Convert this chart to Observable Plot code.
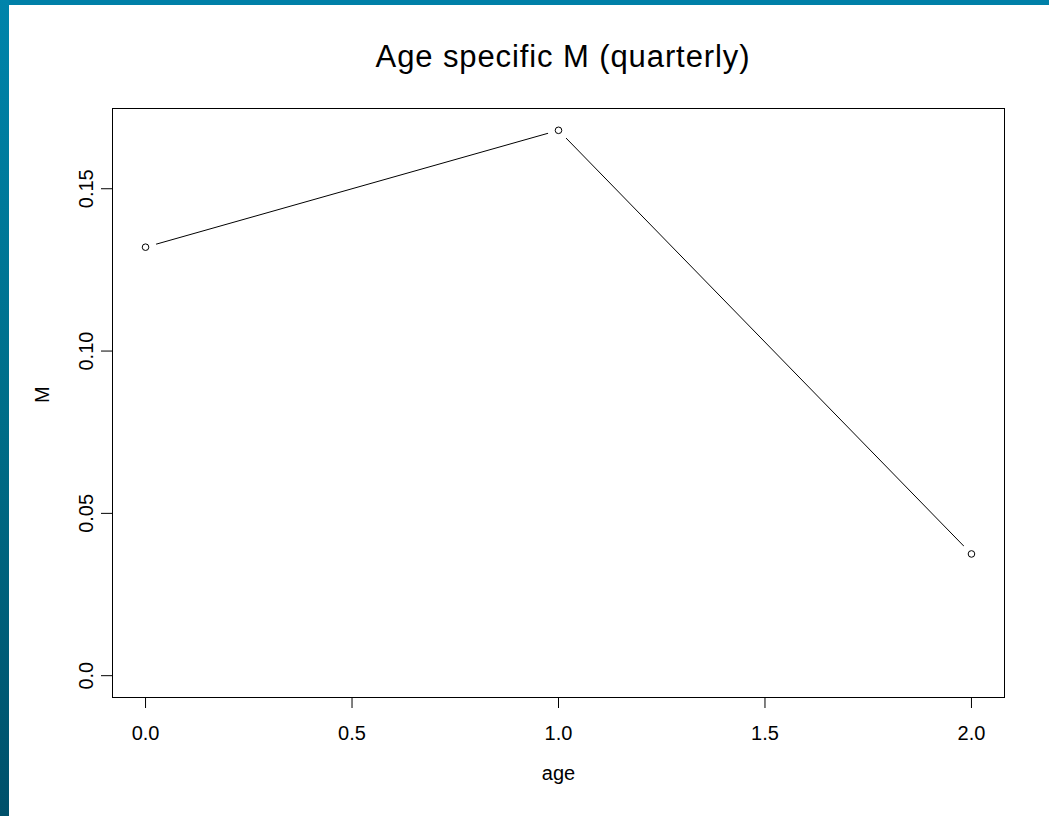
<!DOCTYPE html>
<html>
<head>
<meta charset="utf-8">
<script src="https://cdn.jsdelivr.net/npm/d3@7"></script>
<script src="https://cdn.jsdelivr.net/npm/@observablehq/plot@0.6"></script>
<style>
  html, body { margin: 0; padding: 0; background: #fff; }
  #page { position: relative; width: 1049px; height: 816px; overflow: hidden; background: #fff;
          font-family: "Liberation Sans", Arial, sans-serif; }
  #chart { position: absolute; left: 0; top: 0; }
  #title { position: absolute; left: 0; top: 41px; width: 1126px; text-align: center;
           font-size: 31px; line-height: 31px; letter-spacing: 0.9px; color: #000; }
  #topbar { position: absolute; left: 0; top: 0; width: 1049px; height: 5px; background: #0080a8; }
  #leftbar { position: absolute; left: 0; top: 0; width: 9px; height: 816px;
             background: linear-gradient(#0084ab, #006e89 50%, #00506a); }
</style>
</head>
<body>
<div id="page">
  <div id="chart"></div>
  <div id="title">Age specific M (quarterly)</div>
  <div id="topbar"></div>
  <div id="leftbar"></div>
</div>
<script>
// Natural mortality by age class (quarterly)
const ages = [0, 1, 2];
const mValues = [0.132, 0.168, 0.0375];

// Axis ticks and their printed labels
const xTicks = [0, 0.5, 1, 1.5, 2];
const xTickLabels = ["0.0", "0.5", "1.0", "1.5", "2.0"];
const yTicks = [0, 0.05, 0.10, 0.15];
const yTickLabels = ["0.0", "0.05", "0.10", "0.15"];

const xLabel = "age";
const yLabel = "M";

const data = ages.map((a, i) => ({ age: a, M: mValues[i] }));

// R-style 4% padding around the data range (y range includes zero)
function pad(lo, hi) {
  const e = (hi - lo) * 0.04;
  return [lo - e, hi + e];
}
const xDomain = pad(d3.min(ages), d3.max(ages));
const yDomain = pad(0, d3.max(mValues));

const chart = Plot.plot({
  width: 1049,
  height: 816,
  marginLeft: 112,
  marginRight: 45,
  marginTop: 108,
  marginBottom: 119,
  style: { fontFamily: "'Liberation Sans', Arial, sans-serif", fontSize: "20px", color: "#000", background: "transparent" },
  x: { domain: xDomain, label: null },
  y: { domain: yDomain, label: null },
  marks: [
    Plot.frame({ stroke: "#000", strokeWidth: 1 }),
    Plot.axisX(xTicks, {
      tickSize: 11, tickPadding: 17, fontSize: 20, label: null,
      tickFormat: d => xTickLabels[xTicks.indexOf(d)]
    }),
    Plot.axisY(yTicks, {
      tickSize: 11, tickPadding: 9, tickRotate: -90, fontSize: 20, label: null,
      tickFormat: d => yTickLabels[yTicks.indexOf(d)]
    }),
    Plot.text([xLabel], { text: d => d, frameAnchor: "bottom", dy: 82, lineAnchor: "bottom", fontSize: 20 }),
    Plot.text([yLabel], { text: d => d, frameAnchor: "left", dx: -64, rotate: -90, lineAnchor: "bottom", fontSize: 20 }),
    // type "b": line broken around each point
    Plot.line(data, { x: "age", y: "M", stroke: "#000", strokeWidth: 1 }),
    Plot.dot(data, { x: "age", y: "M", r: 11, fill: "#fff", stroke: "none" }),
    Plot.dot(data, { x: "age", y: "M", r: 3.3, fill: "#fff", stroke: "#000", strokeWidth: 1 })
  ]
});
document.getElementById("chart").appendChild(chart);
</script>
</body>
</html>
